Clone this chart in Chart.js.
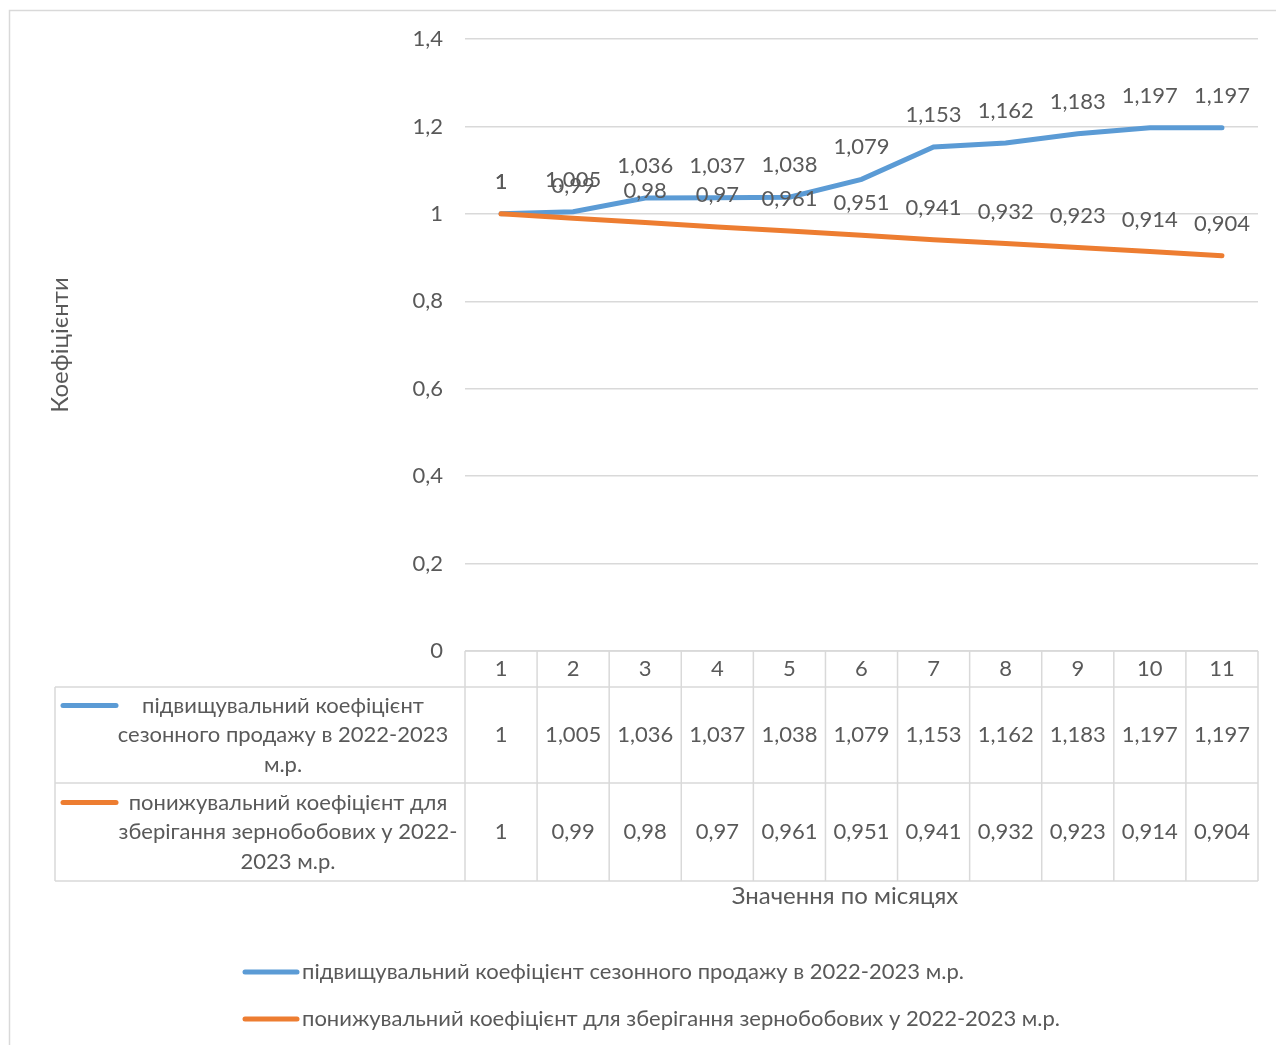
<!DOCTYPE html>
<html>
<head>
<meta charset="utf-8">
<script src="https://cdn.jsdelivr.net/npm/chart.js@4/dist/chart.umd.min.js"></script>
<style>
html,body{margin:0;padding:0;background:#fff;}
#wrap{width:1276px;height:1045px;position:relative;}
</style>
</head>
<body>
<div id="wrap"><canvas id="c" width="1276" height="1045"></canvas></div>
<script>
const categories = ['1','2','3','4','5','6','7','8','9','10','11'];
const seriesUp = [1, 1.005, 1.036, 1.037, 1.038, 1.079, 1.153, 1.162, 1.183, 1.197, 1.197];
const seriesDown = [1, 0.99, 0.98, 0.97, 0.961, 0.951, 0.941, 0.932, 0.923, 0.914, 0.904];
const seriesNames = [
  'підвищувальний коефіцієнт сезонного продажу в 2022-2023 м.р.',
  'понижувальний коефіцієнт для зберігання зернобобових у 2022-2023 м.р.'
];
const tableLabelLines = [
  ['підвищувальний коефіцієнт', 'сезонного продажу в 2022-2023', 'м.р.'],
  ['понижувальний коефіцієнт для', 'зберігання зернобобових у 2022-', '2023 м.р.']
];
const yAxisTitle = 'Коефіцієнти';
const xAxisTitle = 'Значення по місяцях';
const colors = ['#5B9BD5', '#ED7D31'];

const FONT = 'Lato, "Open Sans", sans-serif';
const FS = 22;
const FT = 24;
const TXT = '#595959';
const GRID = '#D9D9D9';
const fmt = v => String(v).replace('.', ',');

const extras = {
  id: 'extras',
  beforeDraw(chart) {
    const ctx = chart.ctx;
    ctx.save();
    ctx.strokeStyle = GRID;
    ctx.lineWidth = 1.5;
    ctx.strokeRect(9.5, 10.5, 1300, 1100);
    ctx.restore();
  },
  afterDatasetsDraw(chart) {
    const ctx = chart.ctx;
    ctx.save();
    ctx.font = FS + 'px ' + FONT;
    ctx.fillStyle = TXT;
    ctx.textAlign = 'center';
    ctx.textBaseline = 'middle';
    [0, 1].forEach(di => {
      const meta = chart.getDatasetMeta(di);
      const data = chart.data.datasets[di].data;
      meta.data.forEach((pt, i) => {
        ctx.fillText(fmt(data[i]), pt.x, pt.y - 32);
      });
    });
    ctx.restore();
  },
  afterDraw(chart) {
    const ctx = chart.ctx;
    const xs = chart.scales.x;
    const ca = chart.chartArea;
    const top = ca.bottom;
    const hdrB = top + 36;
    const r1B = hdrB + 96;
    const r2B = r1B + 98;
    const leftX = 55;
    const n = categories.length;
    const colW = (ca.right - ca.left) / n;
    ctx.save();
    ctx.strokeStyle = GRID;
    ctx.lineWidth = 1.5;
    ctx.beginPath();
    ctx.moveTo(ca.left, top); ctx.lineTo(ca.right, top);
    [hdrB, r1B, r2B].forEach(y => { ctx.moveTo(leftX, y); ctx.lineTo(ca.right, y); });
    ctx.moveTo(leftX, hdrB); ctx.lineTo(leftX, r2B);
    for (let i = 0; i <= n; i++) {
      const x = i < n ? xs.getPixelForValue(i) - colW / 2 : xs.getPixelForValue(n - 1) + colW / 2;
      ctx.moveTo(x, top); ctx.lineTo(x, r2B);
    }
    ctx.stroke();

    ctx.font = FS + 'px ' + FONT;
    ctx.fillStyle = TXT;
    ctx.textAlign = 'center';
    ctx.textBaseline = 'middle';
    categories.forEach((c, i) => {
      const x = xs.getPixelForValue(i);
      ctx.fillText(c, x, (top + hdrB) / 2);
      ctx.fillText(fmt(chart.data.datasets[0].data[i]), x, (hdrB + r1B) / 2);
      ctx.fillText(fmt(chart.data.datasets[1].data[i]), x, (r1B + r2B) / 2);
    });
    const rows = [[hdrB, r1B], [r1B, r2B]];
    const rowCx = [283, 288];
    rows.forEach((r, ri) => {
      const lines = tableLabelLines[ri];
      const cy = (r[0] + r[1]) / 2;
      const lh = 29.5;
      const y0 = cy - lh * (lines.length - 1) / 2;
      ctx.fillStyle = TXT;
      lines.forEach((ln, li) => ctx.fillText(ln, rowCx[ri], y0 + li * lh));
      ctx.strokeStyle = colors[ri];
      ctx.lineWidth = 5;
      ctx.lineCap = 'round';
      ctx.beginPath();
      ctx.moveTo(63, y0); ctx.lineTo(116, y0);
      ctx.stroke();
    });
    ctx.font = FT + 'px ' + FONT;
    ctx.fillText(xAxisTitle, 845, r2B + 15);
    ctx.save();
    ctx.translate(60, (ca.top + ca.bottom) / 2);
    ctx.rotate(-Math.PI / 2);
    ctx.fillText(yAxisTitle, 0, 0);
    ctx.restore();
    ctx.font = FS + 'px ' + FONT;
    ctx.textAlign = 'left';
    [972, 1019].forEach((y, i) => {
      ctx.strokeStyle = colors[i];
      ctx.lineWidth = 5;
      ctx.lineCap = 'round';
      ctx.beginPath();
      ctx.moveTo(245, y); ctx.lineTo(297, y);
      ctx.stroke();
      ctx.fillStyle = TXT;
      ctx.fillText(seriesNames[i], 302, y);
    });
    ctx.restore();
  }
};

new Chart(document.getElementById('c'), {
  type: 'line',
  data: {
    labels: categories,
    datasets: [
      { label: seriesNames[0], data: seriesUp, borderColor: colors[0], backgroundColor: colors[0], borderWidth: 5, pointRadius: 0, tension: 0, order: 1, borderCapStyle: 'round' },
      { label: seriesNames[1], data: seriesDown, borderColor: colors[1], backgroundColor: colors[1], borderWidth: 5, pointRadius: 0, tension: 0, order: 0, borderCapStyle: 'round' }
    ]
  },
  options: {
    responsive: false,
    animation: false,
    layout: { padding: { top: 39, bottom: 394, left: 0, right: 18 } },
    plugins: { legend: { display: false }, tooltip: { enabled: false }, title: { display: false } },
    scales: {
      x: { display: false, offset: true },
      y: {
        min: 0, max: 1.4,
        ticks: { stepSize: 0.2, color: TXT, font: { family: FONT, size: FS }, padding: 22,
          callback: v => fmt(Math.round(v * 10) / 10) },
        grid: { color: GRID, lineWidth: 1.5, drawTicks: false },
        border: { display: false },
        afterFit: s => { s.width = 465; }
      }
    }
  },
  plugins: [extras]
});
</script>
</body>
</html>
